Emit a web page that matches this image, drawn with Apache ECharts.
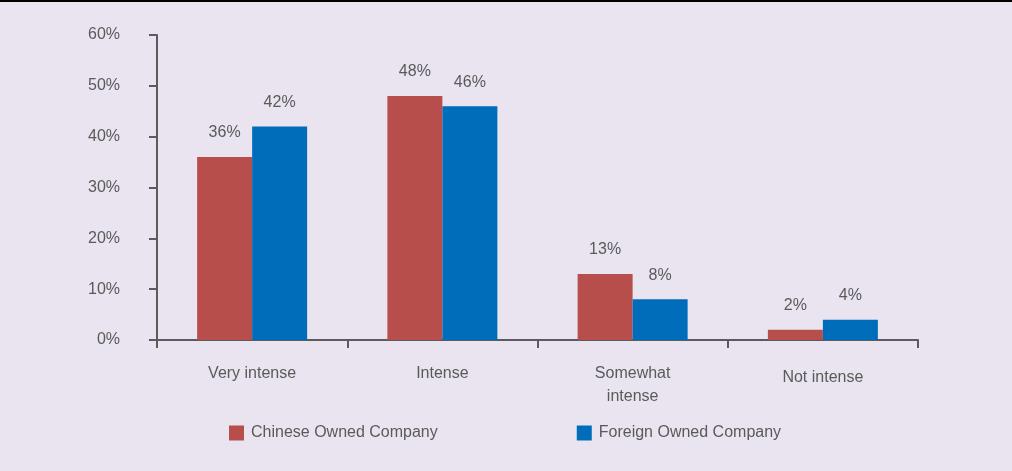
<!DOCTYPE html>
<html>
<head>
<meta charset="utf-8">
<script src="https://cdn.jsdelivr.net/npm/echarts@6/dist/echarts.min.js"></script>
<style>
  html, body { margin: 0; padding: 0; background: #e9e4ef; }
  #chart { width: 1012px; height: 471px; }
</style>
</head>
<body>
<div id="chart"></div>
<script>
// categories and values
const categories = ["Very intense", "Intense", "Somewhat\nintense", "Not intense"];
const chineseOwned = [36, 48, 13, 2];
const foreignOwned = [42, 46, 8, 4];
const seriesNames = ["Chinese Owned Company", "Foreign Owned Company"];

const font = "'Liberation Sans', Arial, sans-serif";
const textColor = "#5a5a5a";

const chart = echarts.init(document.getElementById("chart"), null, { renderer: "canvas" });

const labelOpt = {
  show: true,
  position: "top",
  distance: 16,
  formatter: "{c}%",
  color: textColor,
  fontFamily: font,
  fontSize: 16,
};

// last label sits a little lower in the original
const xData = categories.map((c, i) =>
  i === 3 ? { value: c, textStyle: { padding: [4, 0, 0, 0] } } : c
);

const option = {
  backgroundColor: "#e9e4ef",
  animation: false,
  graphic: [
    { type: "rect", shape: { x: 0, y: 0, width: 1012, height: 2 }, style: { fill: "#000" } },
  ],
  grid: { left: 157, right: 94, top: 35, bottom: 131 },
  legend: {
    bottom: 25,
    left: 224,
    itemWidth: 15,
    itemHeight: 15,
    itemGap: 139,
    icon: "rect",
    textStyle: { color: textColor, fontFamily: font, fontSize: 16, padding: [0, 0, 0, 2] },
    data: seriesNames,
  },
  xAxis: {
    type: "category",
    data: xData,
    axisLine: { lineStyle: { color: "#5d5a5e", width: 2 } },
    axisTick: { show: true, length: 8, lineStyle: { color: "#5d5a5e", width: 2 } },
    axisLabel: { color: textColor, fontFamily: font, fontSize: 16, margin: 22, lineHeight: 23 },
  },
  yAxis: {
    type: "value",
    min: 0,
    max: 60,
    interval: 10,
    splitLine: { show: false },
    axisLine: { show: true, lineStyle: { color: "#5d5a5e", width: 2 } },
    axisTick: { show: true, length: 8, lineStyle: { color: "#5d5a5e", width: 2 } },
    axisLabel: {
      color: textColor, fontFamily: font, fontSize: 16, margin: 37,
      formatter: "{value}%",
    },
  },
  series: [
    {
      name: seriesNames[0],
      type: "bar",
      data: chineseOwned,
      barWidth: 55,
      barGap: "0%",
      itemStyle: { color: "#b84e4c" },
      label: labelOpt,
    },
    {
      name: seriesNames[1],
      type: "bar",
      data: foreignOwned,
      barWidth: 55,
      itemStyle: { color: "#006dba" },
      label: labelOpt,
    },
  ],
};

chart.setOption(option);
</script>
</body>
</html>
